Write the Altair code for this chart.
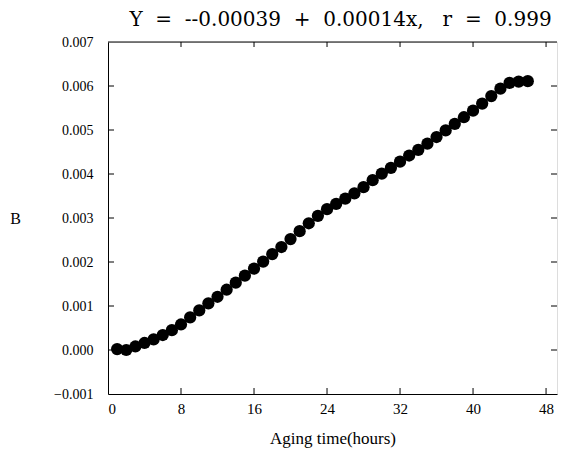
import altair as alt
import pandas as pd

# Aging time (hours) and measured B values
hours = list(range(1, 47))
b_values = [
    0.00002, 0.00000, 0.00008, 0.00016, 0.00024, 0.00034, 0.00045, 0.00058,
    0.00074, 0.00090, 0.00106, 0.00121, 0.00137, 0.00153, 0.00169, 0.00185,
    0.00201, 0.00218, 0.00234, 0.00252, 0.00270, 0.00288, 0.00305, 0.00320,
    0.00332, 0.00344, 0.00356, 0.00370, 0.00386, 0.00401, 0.00414, 0.00428,
    0.00442, 0.00455, 0.00469, 0.00484, 0.00499, 0.00514, 0.00529, 0.00544,
    0.00560, 0.00577, 0.00594, 0.00607, 0.00610, 0.00611,
]

x_ticks = [0, 8, 16, 24, 32, 40, 48]
y_ticks = [-0.001, 0.000, 0.001, 0.002, 0.003, 0.004, 0.005, 0.006, 0.007]
NB = "\u00a0"
title_text = (f"Y{NB*2}={NB*2}--0.00039{NB*2}+{NB*2}0.00014x,"
              f"{NB*3}r{NB*2}={NB*2}0.999")

W, H = 449, 352
SERIF = "Liberation Serif"

df = pd.DataFrame({"t": hours, "b": b_values})
xt = pd.DataFrame({"t": x_ticks[1:]})
yt = pd.DataFrame({"b": y_ticks[1:-1]})
top = pd.DataFrame({"b": [y_ticks[-1]]})

xs = alt.Scale(domain=[0, 49.2], nice=False, zero=False)
ys = alt.Scale(domain=[y_ticks[0], y_ticks[-1]], nice=False, zero=False)

x_axis = alt.Axis(values=x_ticks, format="d", ticks=False, labelPadding=7,
                  labelFont=SERIF, labelFontSize=15, labelColor="black",
                  domainColor="black", grid=False, title="Aging time(hours)",
                  titleFont=SERIF, titleFontSize=17, titleFontWeight="normal",
                  titleColor="black", titlePadding=14)
y_axis = alt.Axis(values=y_ticks, format=".3f", ticks=False, labelPadding=15,
                  labelFont=SERIF, labelFontSize=14, labelColor="black",
                  domainColor="black", grid=False, title="B",
                  titleFont=SERIF, titleFontSize=16, titleFontWeight="normal",
                  titleColor="black", titleAngle=0, titleAlign="center",
                  titleBaseline="middle", titleX=-93, titleY=H / 2)

base = alt.Chart(df)

trend = base.mark_line(color="black", strokeWidth=1).encode(
    x=alt.X("t:Q", scale=xs, axis=x_axis),
    y=alt.Y("b:Q", scale=ys, axis=y_axis),
)
dots = base.mark_circle(color="black", opacity=1, size=150).encode(
    x=alt.X("t:Q", scale=xs),
    y=alt.Y("b:Q", scale=ys),
)

# inward tick marks on all four sides
bottom_ticks = alt.Chart(xt).mark_rule(color="black").encode(
    x=alt.X("t:Q", scale=xs), y=alt.value(H), y2=alt.value(H - 6))
top_ticks = alt.Chart(xt).mark_rule(color="black").encode(
    x=alt.X("t:Q", scale=xs), y=alt.value(0), y2=alt.value(5))
left_ticks = alt.Chart(yt).mark_rule(color="black").encode(
    y=alt.Y("b:Q", scale=ys), x=alt.value(0), x2=alt.value(6))
right_ticks = alt.Chart(yt).mark_rule(color="black").encode(
    y=alt.Y("b:Q", scale=ys), x=alt.value(W - 6), x2=alt.value(W))
top_line = alt.Chart(top).mark_rule(color="black").encode(
    y=alt.Y("b:Q", scale=ys), x=alt.value(0), x2=alt.value(W))

chart = alt.layer(
    trend, dots, bottom_ticks, top_ticks, left_ticks, right_ticks, top_line
).properties(
    width=W, height=H,
    title=alt.TitleParams(title_text, font="DejaVu Serif", fontSize=20,
                          fontWeight="normal", color="black", anchor="middle",
                          dx=8, offset=5),
    autosize=alt.AutoSizeParams(type="none"),
    padding={"left": 108, "top": 42, "right": 4, "bottom": 62},
).configure_view(stroke=None).configure(background="white")

chart.save("out.html", embed_options={"renderer": "svg", "actions": False})
